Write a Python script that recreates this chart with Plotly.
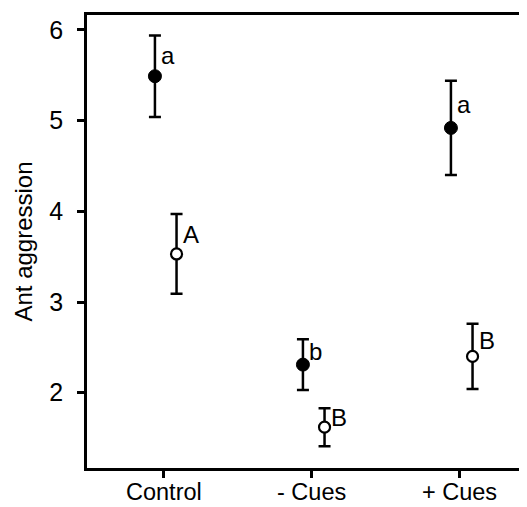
import plotly.graph_objects as go

categories = ["Control", "- Cues", "+ Cues"]
filled_mean = [5.49, 2.31, 4.92]
filled_err = [0.45, 0.28, 0.52]
filled_letters = ["a", "b", "a"]
open_mean = [3.53, 1.62, 2.40]
open_err = [0.44, 0.21, 0.36]
open_letters = ["A", "B", "B"]
y_ticks = [2, 3, 4, 5, 6]

pos = [1, 2, 3]
off_f = -0.061
off_o = 0.085
xf = [p + off_f for p in pos]
xo = [p + off_o for p in pos]

FONT = "Liberation Sans, Arial, sans-serif"

fig = go.Figure()
fig.add_trace(go.Scatter(
    x=xf, y=filled_mean, mode="markers",
    marker=dict(color="black", size=13, line=dict(color="black", width=1)),
    error_y=dict(type="data", array=filled_err, color="black", thickness=2.5, width=6),
    showlegend=False))
fig.add_trace(go.Scatter(
    x=xo, y=open_mean, mode="markers",
    marker=dict(color="white", size=11, line=dict(color="black", width=2.2)),
    error_y=dict(type="data", array=open_err, color="black", thickness=2.5, width=6),
    showlegend=False))

for x, m, e, t in list(zip(xf, filled_mean, filled_err, filled_letters)) + list(zip(xo, open_mean, open_err, open_letters)):
    fig.add_annotation(x=x, y=m + e / 2, text=t, showarrow=False, xanchor="left",
                       yanchor="middle", xshift=4, font=dict(size=24, color="black", family=FONT))

# category labels drawn as annotations so they sit as close to the axis as in the reference
for p, c in zip(pos, categories):
    fig.add_annotation(x=p, xref="x", y=0, yref="paper", text=c, showarrow=False,
                       xanchor="center", yanchor="top", yshift=-10, borderpad=0,
                       font=dict(size=23.5, color="black", family=FONT))

# page body has an 8px margin, so the figure is sized to the remaining visible area
fig.update_layout(
    width=519, height=499,
    margin=dict(l=79, r=0, t=7, b=39),
    paper_bgcolor="white", plot_bgcolor="white",
    font=dict(family=FONT, size=24, color="black"),
    xaxis=dict(range=[0.48, 3.453], tickvals=pos, showticklabels=False,
               showgrid=False, zeroline=False, showline=True, linecolor="black",
               linewidth=2.5, mirror=True, ticks="outside", ticklen=7, tickwidth=2.5,
               tickcolor="black", automargin=False),
    yaxis=dict(range=[1.17, 6.165], tickvals=y_ticks,
               showgrid=False, zeroline=False, showline=True, linecolor="black",
               linewidth=2.5, ticks="outside", ticklen=7, tickwidth=2.5,
               tickcolor="black", tickfont=dict(size=25), ticklabelstandoff=9,
               automargin=False,
               title=dict(text="Ant aggression", font=dict(size=24), standoff=10)),
)
fig.write_html("out.html")
